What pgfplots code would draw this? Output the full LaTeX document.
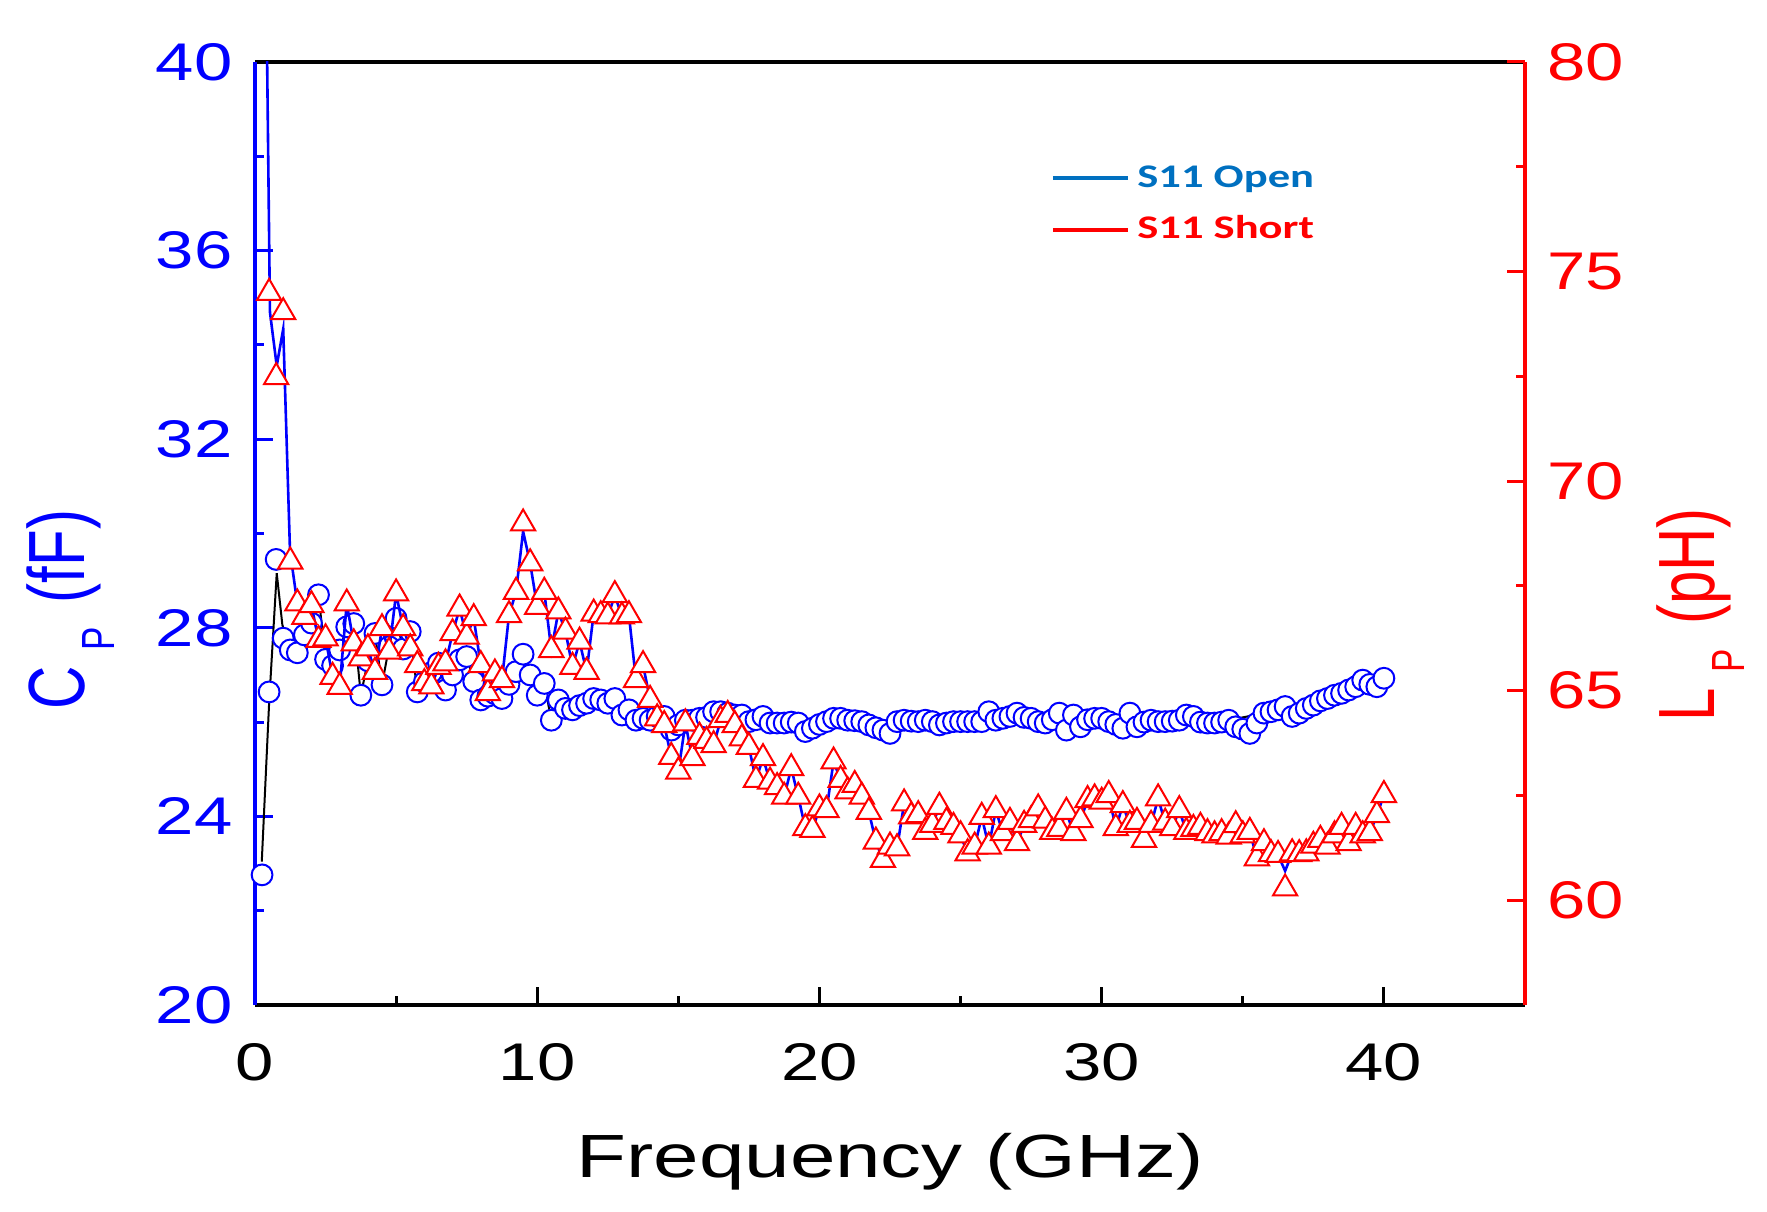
\documentclass[border=0pt]{standalone}
\usepackage{fontspec}
\usepackage{graphicx}
\usepackage{pgfplots}
\usepackage{pgfplotstable}
\pgfplotsset{compat=1.18}
\setmainfont{Liberation Sans}
\newfontfamily\widefont[FakeStretch=1.3]{Liberation Sans}
\newfontfamily\widerfont[FakeStretch=1.34]{Liberation Sans}
\newfontfamily\legfont[FakeStretch=1.35]{Carlito}
\definecolor{legblue}{RGB}{0,112,192}

\pgfplotstableread{
f C
0.25 22.76
0.50 26.64
0.75 29.45
1.00 27.78
1.25 27.53
1.50 27.47
1.75 27.85
2.00 28.10
2.25 28.70
2.50 27.33
2.75 27.20
3.00 27.53
3.25 28.02
3.50 28.09
3.75 26.57
4.00 27.30
4.25 27.88
4.50 26.79
4.75 27.60
5.00 28.20
5.25 27.55
5.50 27.92
5.75 26.64
6.00 26.85
6.25 27.05
6.50 27.25
6.75 26.68
7.00 27.00
7.25 27.32
7.50 27.39
7.75 26.86
8.00 26.47
8.25 26.55
8.50 26.60
8.75 26.50
9.00 26.80
9.25 27.07
9.50 27.44
9.75 27.00
10.00 26.57
10.25 26.82
10.50 26.04
10.75 26.47
11.00 26.29
11.25 26.26
11.50 26.35
11.75 26.40
12.00 26.50
12.25 26.47
12.50 26.40
12.75 26.50
13.00 26.15
13.25 26.26
13.50 26.04
13.75 26.08
14.00 26.04
14.25 26.12
14.50 26.12
14.75 25.83
15.00 25.94
15.25 26.04
15.50 26.04
15.75 26.08
16.00 26.10
16.25 26.22
16.50 26.22
16.75 26.19
17.00 26.15
17.25 26.15
17.50 26.01
17.75 26.05
18.00 26.12
18.25 25.98
18.50 25.98
18.75 25.98
19.00 26.00
19.25 25.98
19.50 25.80
19.75 25.87
20.00 25.95
20.25 26.01
20.50 26.08
20.75 26.08
21.00 26.04
21.25 26.03
21.50 26.01
21.75 25.94
22.00 25.88
22.25 25.83
22.50 25.76
22.75 26.01
23.00 26.04
23.25 26.02
23.50 26.01
23.75 26.04
24.00 26.01
24.25 25.94
24.50 25.98
24.75 26.01
25.00 26.01
25.25 26.01
25.50 26.01
25.75 26.01
26.00 26.22
26.25 26.04
26.50 26.08
26.75 26.12
27.00 26.19
27.25 26.10
27.50 26.08
27.75 26.01
28.00 25.98
28.25 26.05
28.50 26.19
28.75 25.83
29.00 26.15
29.25 25.90
29.50 26.05
29.75 26.08
30.00 26.08
30.25 26.01
30.50 25.95
30.75 25.87
31.00 26.19
31.25 25.90
31.50 26.00
31.75 26.04
32.00 26.01
32.25 26.01
32.50 26.02
32.75 26.04
33.00 26.15
33.25 26.12
33.50 26.00
33.75 25.98
34.00 25.98
34.25 26.00
34.50 26.04
34.75 25.90
35.00 25.85
35.25 25.76
35.50 25.98
35.75 26.19
36.00 26.22
36.25 26.26
36.50 26.33
36.75 26.12
37.00 26.19
37.25 26.29
37.50 26.36
37.75 26.45
38.00 26.50
38.25 26.57
38.50 26.61
38.75 26.68
39.00 26.75
39.25 26.89
39.50 26.80
39.75 26.75
40.00 26.93
}\cpdata

\pgfplotstableread{
f C
0.24 23.04
0.50 26.40
0.77 29.16
0.97 28.06
1.25 27.53
1.50 27.47
1.75 27.85
2.00 28.10
2.25 28.70
2.50 27.33
2.75 27.20
3.00 27.53
3.25 28.02
3.50 28.09
3.75 26.57
4.00 27.30
4.25 27.88
4.50 26.79
4.75 27.60
5.00 28.20
5.25 27.55
5.50 27.92
5.75 26.64
6.00 26.85
6.25 27.05
6.50 27.25
6.75 26.68
7.00 27.00
7.25 27.32
7.50 27.39
7.75 26.86
8.00 26.47
8.25 26.55
8.50 26.60
8.75 26.50
9.00 26.80
9.25 27.07
9.50 27.44
9.75 27.00
10.00 26.57
10.25 26.82
10.50 26.04
10.75 26.47
11.00 26.29
11.25 26.26
11.50 26.35
11.75 26.40
12.00 26.50
12.25 26.47
12.50 26.40
12.75 26.50
13.00 26.15
13.25 26.26
13.50 26.04
13.75 26.08
14.00 26.04
14.25 26.12
14.50 26.12
14.75 25.83
15.00 25.94
16.00 26.10
18.00 26.12
20.00 25.95
22.00 25.88
24.00 26.01
26.00 26.22
28.00 25.98
30.00 26.08
32.00 26.01
34.00 25.98
36.00 26.22
38.00 26.50
40.00 26.93
}\cpline

\pgfplotstableread{
f L
0.50 74.49
0.75 72.48
1.00 74.03
1.25 68.08
1.50 67.08
1.75 66.76
2.00 67.04
2.25 66.21
2.50 66.25
2.75 65.33
3.00 65.09
3.25 67.08
3.50 66.13
3.75 65.77
4.00 66.01
4.25 65.45
4.50 66.49
4.75 65.93
5.00 67.32
5.25 66.49
5.50 66.01
5.75 65.61
6.00 65.18
6.25 65.10
6.50 65.57
6.75 65.65
7.00 66.37
7.25 66.96
7.50 66.29
7.75 66.73
8.00 65.61
8.25 64.94
8.50 65.41
8.75 65.25
9.00 66.80
9.25 67.36
9.50 68.99
9.75 68.04
10.00 67.00
10.25 67.36
10.50 65.97
10.75 66.89
11.00 66.41
11.25 65.57
11.50 66.17
11.75 65.45
12.00 66.84
12.25 66.80
12.50 66.77
12.75 67.28
13.00 66.77
13.25 66.80
13.50 65.25
13.75 65.61
14.00 64.78
14.25 64.34
14.50 64.18
14.75 63.42
15.00 63.07
15.25 64.22
15.50 63.39
15.75 63.90
16.00 63.80
16.25 63.70
16.50 64.30
16.75 64.42
17.00 64.18
17.25 63.86
17.50 63.66
17.75 62.87
18.00 63.39
18.25 62.83
18.50 62.70
18.75 62.47
19.00 63.15
19.25 62.47
19.50 61.72
19.75 61.68
20.00 62.19
20.25 62.15
20.50 63.31
20.75 62.87
21.00 62.60
21.25 62.75
21.50 62.47
21.75 62.11
22.00 61.40
22.25 60.96
22.50 61.28
22.75 61.24
23.00 62.31
23.25 62.00
23.50 62.03
23.75 61.63
24.00 61.80
24.25 62.23
24.50 61.87
24.75 61.75
25.00 61.55
25.25 61.12
25.50 61.28
25.75 61.99
26.00 61.28
26.25 62.15
26.50 61.60
26.75 61.87
27.00 61.36
27.25 61.80
27.50 61.91
27.75 62.19
28.00 61.90
28.25 61.63
28.50 61.70
28.75 62.11
29.00 61.60
29.25 61.91
29.50 62.39
29.75 62.43
30.00 62.35
30.25 62.51
30.50 61.72
30.75 62.27
31.00 61.80
31.25 61.87
31.50 61.44
31.75 61.80
32.00 62.43
32.25 61.85
32.50 61.72
32.75 62.15
33.00 61.63
33.25 61.70
33.50 61.75
33.75 61.60
34.00 61.55
34.25 61.60
34.50 61.52
34.75 61.79
35.00 61.55
35.25 61.63
35.50 61.00
35.75 61.36
36.00 61.10
36.25 61.08
36.50 60.28
36.75 61.12
37.00 61.10
37.25 61.12
37.50 61.30
37.75 61.44
38.00 61.28
38.25 61.55
38.50 61.75
38.75 61.36
39.00 61.75
39.25 61.55
39.50 61.60
39.75 62.03
40.00 62.51
}\lpdata

\pgfplotstableread{
f L
0.28 89.00
0.53 74.03
0.77 72.75
1.00 73.63
1.24 68.33
1.50 67.08
1.75 66.76
2.00 67.04
2.25 66.21
2.50 66.25
2.75 65.33
3.00 65.09
3.25 67.08
3.50 66.13
3.75 65.77
4.00 66.01
4.25 65.45
4.50 66.49
4.75 65.93
5.00 67.32
5.25 66.49
5.50 66.01
5.75 65.61
6.00 65.18
6.25 65.10
6.50 65.57
6.75 65.65
7.00 66.37
7.25 66.96
7.50 66.29
7.75 66.73
8.00 65.61
8.25 64.94
8.50 65.41
8.75 65.25
9.00 66.80
9.25 67.36
9.50 68.80
9.75 68.04
10.00 67.00
10.25 67.36
10.50 65.97
10.75 66.89
11.00 66.41
11.25 65.57
11.50 66.17
11.75 65.45
12.00 66.84
12.25 66.80
12.50 66.77
12.75 67.28
13.00 66.77
13.25 66.80
13.50 65.25
13.75 65.61
14.00 64.78
14.25 64.34
14.50 64.18
14.75 63.42
15.00 63.07
15.25 64.22
15.50 63.39
15.75 63.90
16.00 63.80
16.25 63.70
16.50 64.30
16.75 64.42
17.00 64.18
17.25 63.86
17.50 63.66
17.75 62.87
18.00 63.39
18.25 62.83
18.50 62.70
18.75 62.47
19.00 63.15
19.25 62.47
19.50 61.72
19.75 61.68
20.00 62.19
20.25 62.15
20.50 63.31
20.75 62.87
21.00 62.60
21.25 62.75
21.50 62.47
21.75 62.11
22.00 61.40
22.25 60.96
22.50 61.28
22.75 61.24
23.00 62.31
23.25 62.00
23.50 62.03
23.75 61.63
24.00 61.80
24.25 62.23
24.50 61.87
24.75 61.75
25.00 61.55
25.25 61.12
25.50 61.28
25.75 61.99
26.00 61.28
26.25 62.15
26.50 61.60
26.75 61.87
27.00 61.36
27.25 61.80
27.50 61.91
27.75 62.19
28.00 61.90
28.25 61.63
28.50 61.70
28.75 62.11
29.00 61.60
29.25 61.91
29.50 62.39
29.75 62.43
30.00 62.35
30.25 62.51
30.50 61.72
30.75 62.27
31.00 61.80
31.25 61.87
31.50 61.44
31.75 61.80
32.00 62.43
32.25 61.85
32.50 61.72
32.75 62.15
33.00 61.63
33.25 61.70
33.50 61.75
33.75 61.60
34.00 61.55
34.25 61.60
34.50 61.52
34.75 61.79
35.00 61.55
35.25 61.63
35.50 61.00
35.75 61.36
36.00 61.10
36.25 61.08
36.50 60.70
36.75 61.12
37.00 61.10
37.25 61.12
37.50 61.30
37.75 61.44
38.00 61.28
38.25 61.55
38.50 61.75
38.75 61.36
39.00 61.75
39.25 61.55
39.50 61.60
39.75 62.03
40.00 62.51
}\lpline

\begin{document}
\begin{tikzpicture}
\path[use as bounding box] (0,0) rectangle (883.5pt,605.5pt);
% ---------- left axis: Cp ----------
\begin{axis}[
  at={(127.5pt,103pt)}, anchor=south west,
  width=635pt, height=471.5pt, scale only axis,
  xmin=0, xmax=45, ymin=20, ymax=40,
  axis y line*=left, axis x line*=box,
  x axis line style={black, line width=1.75pt, -},
  y axis line style={blue, line width=1.75pt, -},
  xtick={0,10,20,30,40}, minor xtick={5,15,25,35},
  ytick={20,24,28,32,36,40}, minor ytick={22,26,30,34,38},
  xtick pos=left, ytick pos=left,
  tick align=inside,
  major tick length=9pt, minor tick length=4.5pt,
  xtick style={black, line width=1.5pt},
  ytick style={blue, line width=1.5pt},
  /pgf/number format/assume math mode=true,
  xticklabel style={font=\widefont\fontsize{26.5}{30}\selectfont, text=black, inner sep=0pt, yshift=-19pt},
  yticklabel style={font=\widefont\fontsize{26.5}{30}\selectfont, text=blue, inner sep=0pt, xshift=-11pt},
  xlabel={Frequency (GHz)},
  xlabel style={at={(axis description cs:0.5,-0.1824)}, anchor=base, inner sep=0pt,
    font=\widerfont\fontsize{30.5}{34}\selectfont, text=black},
  ylabel={\scalebox{1}[1.33]{C\hspace{8pt}\raisebox{-11.5pt}{\fontsize{17.5}{20}\selectfont P}\hspace{12pt}(fF)}},
  ylabel style={at={(axis description cs:-0.1346,0.4189)}, anchor=base, inner sep=0pt,
    font=\fontsize{30}{34}\selectfont, text=blue},
]
\addplot[black, line width=1pt, no markers] table[x=f, y=C] {\cpline};
\addplot[only marks, mark=*, mark size=5.2pt,
  mark options={draw=blue, fill=white, line width=1pt, solid}] table[x=f, y=C] {\cpdata};
\end{axis}
% ---------- right axis: Lp ----------
\begin{axis}[
  at={(127.5pt,103pt)}, anchor=south west,
  width=635pt, height=471.5pt, scale only axis,
  xmin=0, xmax=45, ymin=57.5, ymax=80,
  axis y line*=right, axis x line=none,
  y axis line style={red, line width=1.75pt, -},
  ytick={60,65,70,75,80}, minor ytick={62.5,67.5,72.5,77.5},
  ytick pos=right,
  tick align=inside,
  major tick length=9pt, minor tick length=4.5pt,
  ytick style={red, line width=1.5pt},
  /pgf/number format/assume math mode=true,
  yticklabel style={font=\widefont\fontsize{26.5}{30}\selectfont, text=red, inner sep=0pt, xshift=11pt},
  ylabel={\scalebox{1}[1.33]{L\hspace{8pt}\raisebox{-11.5pt}{\fontsize{17.5}{20}\selectfont P}\hspace{12pt}(pH)}},
  ylabel style={at={(axis description cs:1.149,0.4136)}, anchor=base, inner sep=0pt,
    font=\fontsize{30}{34}\selectfont, text=red},
]
\addplot[blue, line width=1.3pt, no markers] table[x=f, y=L] {\lpline};
\addplot[only marks, mark=triangle*, mark size=7pt,
  mark options={draw=red, fill=white, line width=1pt, solid}] table[x=f, y=L] {\lpdata};
% legend
\draw[legblue, line width=2pt] (axis description cs:0.6283,0.877) -- (axis description cs:0.6874,0.877);
\node[anchor=base west, inner sep=0pt, text=legblue, font=\legfont\bfseries\fontsize{16.5}{18}\selectfont]
  at (axis description cs:0.6945,0.8664) {S11 Open};
\draw[red, line width=2pt] (axis description cs:0.6283,0.8218) -- (axis description cs:0.6874,0.8218);
\node[anchor=base west, inner sep=0pt, text=red, font=\legfont\bfseries\fontsize{16.5}{18}\selectfont]
  at (axis description cs:0.6945,0.8123) {S11 Short};
\end{axis}
\end{tikzpicture}
\end{document}
